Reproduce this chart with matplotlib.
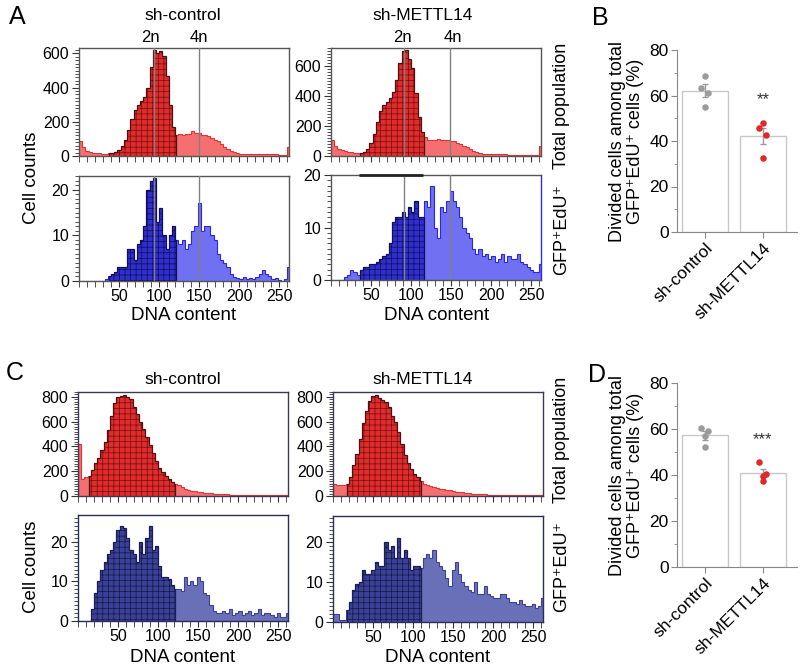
import numpy as np
import matplotlib
matplotlib.use('Agg')
import matplotlib.pyplot as plt
from matplotlib.ticker import MultipleLocator, FixedLocator

plt.rcParams['font.family'] = ['Liberation Sans', 'DejaVu Sans']
plt.rcParams['hatch.linewidth'] = 0.5

# DNA content channels, bins of 4 (0..264)
edges = np.arange(0, 268, 4)

# panel A, total population (red)
a_ctrl_tot = [85, 50, 32, 24, 20, 17, 15, 14, 14, 15,
              18, 25, 38, 60, 95, 150, 215, 270, 300, 320,
              345, 400, 520, 620, 605, 615, 585, 470, 300, 170,
              125, 128, 125, 130, 128, 148, 135, 132, 125, 120,
              118, 108, 95, 85, 70, 55, 42, 30, 22, 17,
              14, 13, 12, 12, 11, 11, 10, 10, 10, 9,
              9, 9, 8, 8, 8, 50]
a_kd_tot = [105, 70, 50, 38, 32, 28, 25, 22, 20, 22,
            28, 45, 85, 150, 230, 300, 340, 360, 390, 430,
            510, 620, 700, 710, 650, 590, 420, 260, 160, 125,
            110, 108, 110, 112, 108, 110, 105, 103, 98, 90,
            80, 70, 58, 45, 35, 26, 20, 16, 14, 13,
            12, 12, 11, 11, 11, 10, 10, 10, 10, 10,
            9, 9, 9, 9, 9, 70]
# panel A, GFP+EdU+ (blue)
a_ctrl_edu = [0, 0, 0, 0, 0, 0, 0, 0, 0.5, 1,
              1.5, 2, 3, 3, 3, 7, 7, 4.5, 8, 9,
              12, 20, 22, 22.5, 13, 16, 10, 7, 10, 12,
              9, 8, 9, 7, 8, 11, 12, 17, 11, 12,
              12, 10, 9, 6, 4.5, 4, 3, 1.5, 0.8, 0.6,
              0.5, 0.8, 0.5, 0.6, 0.5, 0.8, 1.5, 2.5, 1.5, 1,
              0.5, 0.7, 0.3, 0, 0.5, 3]
a_kd_edu = [0, 0, 0, 0, 0.5, 1, 2, 1.5, 1, 2,
            2.5, 2.5, 3, 3, 3.5, 4, 4.5, 5, 7, 11,
            12, 12, 13, 12, 14, 13, 15, 12, 12, 15,
            14, 18, 10, 8, 14, 13, 15, 17, 15, 14,
            12, 10, 9, 8, 6, 5, 6, 4.5, 5, 4,
            4.5, 3.5, 4, 5, 3.5, 4.5, 4, 4, 5, 3.5,
            3, 2.5, 2, 1.5, 1.5, 3]
# panel C, total population (red)
c_ctrl_tot = [420, 140, 150, 160, 210, 265, 310, 370, 440, 530,
              650, 750, 800, 810, 815, 800, 785, 720, 665, 600,
              540, 480, 410, 350, 280, 225, 190, 165, 140, 115,
              100, 90, 70, 58, 50, 44, 40, 35, 32, 28,
              25, 22, 20, 18, 16, 15, 13, 12, 11, 10,
              10, 9, 9, 8, 8, 8, 7, 7, 7, 7,
              6, 6, 6, 6, 6, 8]
c_kd_tot = [100, 85, 90, 85, 100, 150, 250, 340, 460, 590,
            690, 765, 805, 815, 790, 775, 760, 715, 650, 595,
            520, 420, 330, 265, 215, 175, 150, 125, 100, 90,
            80, 72, 65, 60, 55, 50, 45, 40, 36, 32,
            29, 26, 23, 20, 18, 16, 14, 13, 12, 11,
            10, 10, 9, 9, 8, 8, 8, 7, 7, 7,
            7, 7, 6, 6, 6, 6]
# panel C, GFP+EdU+ (navy)
c_ctrl_edu = [0, 0, 0, 0, 3, 7, 10, 13, 15, 17,
              18, 20, 23, 24, 23.5, 21, 18, 17, 15, 20,
              17, 21, 24, 18, 19, 14, 11, 11, 10.5, 9,
              8, 8, 7.5, 11, 9, 10, 9, 11, 10, 7,
              6.5, 4, 2.5, 2, 2, 2.5, 2, 3, 1.5, 2,
              2.5, 1.5, 2, 2.5, 1.5, 2, 3, 1.5, 2, 2,
              1.5, 1, 2, 1, 1, 2]
c_kd_edu = [2, 2, 0.5, 0.5, 3, 5, 8, 9.5, 10, 13,
            12, 12, 13, 15, 14, 14, 20, 18, 19, 16,
            21, 16, 18, 16, 13, 14, 14, 13.5, 16, 17,
            16, 18, 15, 14, 13, 11, 9, 13, 15, 12,
            10, 9, 8, 7.5, 10, 7, 7, 9, 7, 6.5,
            6, 6, 7, 7, 6, 5, 5, 4.5, 5.5, 4.5,
            4, 4, 4.5, 3.5, 4, 6]

gate_a_ctrl = (38, 121)
gate_a_kd = (36, 116)
gate_c_ctrl = (14, 121)
gate_c_kd = (17, 110)
ploidy_a_ctrl = (94, 150)
ploidy_a_kd = (91, 149)

# bar charts: divided cells among GFP+EdU+ cells (%)
groups = ['sh-control', 'sh-METTL14']
b_ctrl = [68.6, 63.3, 61.2, 55.0]
b_kd = [47.8, 45.6, 42.6, 32.4]
d_ctrl = [60.4, 59.3, 57.0, 52.0]
d_kd = [45.8, 40.4, 39.7, 37.4]
jitter_b = [0.0, -0.06, 0.06, 0.0]
jitter_d = [-0.06, 0.06, 0.0, 0.0]

W, H = 800, 672


def fx(px):
    return px / W


def fy(py):
    return 1 - py / H


def box(x0, y0, x1, y1):
    return [fx(x0), fy(y1), (x1 - x0) / W, (y1 - y0) / H]


def part(v, a, b):
    m = (edges[1:] > a) & (edges[:-1] < b)
    idx = np.where(m)[0]
    e = np.clip(np.append(edges[idx], edges[idx[-1] + 1]), a, b)
    return v[idx], e


def draw_hist(ax, vals, gate, cin, cout, lin, lout, hcol):
    v = np.asarray(vals, float)
    lo, hi = gate
    for a, b in [(0, lo), (hi, 262)]:
        pv, pe = part(v, a, b)
        ax.stairs(pv, pe, fill=True, facecolor=cout, edgecolor='none', lw=0)
        ax.stairs(pv, pe, color=lout, lw=0.8)
    pv, pe = part(v, lo, hi)
    ax.stairs(pv, pe, fill=True, facecolor=cin, edgecolor=hcol, hatch='+++', lw=0)
    ax.stairs(pv, pe, color=lin, lw=0.9)


def style_hist(ax, ymax, ymaj, ymin, spine, labels):
    ax.set_xlim(0, 262)
    ax.set_ylim(0, ymax)
    ax.xaxis.set_major_locator(FixedLocator([50, 100, 150, 200, 250]))
    ax.xaxis.set_minor_locator(MultipleLocator(10))
    ax.yaxis.set_major_locator(MultipleLocator(ymaj))
    ax.yaxis.set_minor_locator(MultipleLocator(ymin))
    ax.tick_params(which='major', direction='out', length=5, width=0.8,
                   labelsize=11.5, color='#333', pad=2)
    ax.tick_params(which='minor', direction='out', length=3, width=0.6, color='#333')
    ax.tick_params(axis='x', which='both', length=4)
    for s in ax.spines.values():
        s.set_color(spine)
        s.set_linewidth(1.0)
    if not labels:
        ax.set_xticklabels([])


fig = plt.figure(figsize=(8, 6.72), dpi=100)

red = dict(cin='#e32b2b', cout='#f47070', lin='#4a1212', lout='#e33232', hcol='#6a1010')
blue = dict(cin='#2e2ed2', cout='#7070f2', lin='#101058', lout='#2828e0', hcol='#10104a')
navy = dict(cin='#3b4199', cout='#6a70b8', lin='#1a1e50', lout='#3b4199', hcol='#141842')

# panel A
ax1 = fig.add_axes(box(79, 48, 289, 156))
draw_hist(ax1, a_ctrl_tot, gate_a_ctrl, **red)
style_hist(ax1, 632, 200, 20, '#555', False)
ax2 = fig.add_axes(box(79, 176, 289, 281))
draw_hist(ax2, a_ctrl_edu, gate_a_ctrl, **blue)
style_hist(ax2, 23, 10, 1, '#555', True)
ax3 = fig.add_axes(box(331, 48, 541, 156))
draw_hist(ax3, a_kd_tot, gate_a_kd, **red)
style_hist(ax3, 720, 200, 20, '#555', False)
ax4 = fig.add_axes(box(331, 175, 541, 280))
draw_hist(ax4, a_kd_edu, gate_a_kd, **blue)
style_hist(ax4, 20, 10, 1, '#555', True)
ax4.spines['right'].set_color('#3030d8')
ax4.hlines(20, 35, 115, color='#222', lw=2, clip_on=False, zorder=5)
for ax, pl in [(ax1, ploidy_a_ctrl), (ax2, ploidy_a_ctrl), (ax3, ploidy_a_kd), (ax4, ploidy_a_kd)]:
    for p in pl:
        ax.axvline(p, color='#808080', lw=1, zorder=4)

# panel C
ax5 = fig.add_axes(box(78, 392, 288, 496))
draw_hist(ax5, c_ctrl_tot, gate_c_ctrl, **red)
style_hist(ax5, 840, 200, 20, '#3a3a55', False)
ax6 = fig.add_axes(box(78, 515, 288, 621))
draw_hist(ax6, c_ctrl_edu, gate_c_ctrl, **navy)
style_hist(ax6, 26.8, 10, 1, '#2a2d5a', True)
ax7 = fig.add_axes(box(333, 392, 543, 496))
draw_hist(ax7, c_kd_tot, gate_c_kd, **red)
style_hist(ax7, 840, 200, 20, '#3a3a55', False)
ax8 = fig.add_axes(box(333, 516, 543, 622))
draw_hist(ax8, c_kd_edu, gate_c_kd, **navy)
style_hist(ax8, 26.5, 10, 1, '#2a2d5a', True)


def draw_bars(ax, ctrl, kd, jit, stars, star_y):
    means = [np.mean(ctrl), np.mean(kd)]
    sems = [np.std(ctrl, ddof=1) / np.sqrt(len(ctrl)), np.std(kd, ddof=1) / np.sqrt(len(kd))]
    x = np.arange(len(groups))
    ax.bar(x, means, width=0.8, color='white', edgecolor='#c8c8c8', lw=1, zorder=1)
    ax.errorbar(x, means, yerr=sems, fmt='none', ecolor='#9a9a9a', elinewidth=1,
                capsize=2, capthick=1, zorder=2)
    ax.scatter(0 + np.array(jit), ctrl, s=22, color='#9b9b9b', zorder=3, lw=0)
    ax.scatter(1 + np.array(jit), kd, s=22, color='#e0282c', zorder=3, lw=0)
    ax.text(1, star_y, stars, ha='center', va='center', fontsize=12, color='#333')
    ax.set_xlim(-0.48, 1.59)
    ax.set_ylim(0, 80)
    ax.yaxis.set_major_locator(MultipleLocator(20))
    ax.yaxis.set_minor_locator(MultipleLocator(10))
    ax.set_xticks(x)
    ax.set_xticklabels(groups, rotation=45, ha='right', rotation_mode='anchor', fontsize=12)
    ax.tick_params(which='major', direction='out', length=4, color='#888', labelsize=12.5, pad=2)
    ax.tick_params(which='minor', direction='out', length=2, color='#888')
    for s in ['top', 'right']:
        ax.spines[s].set_visible(False)
    for s in ['left', 'bottom']:
        ax.spines[s].set_color('#888')
    ax.set_ylabel('Divided cells among total\nGFP⁺EdU⁺ cells (%)', fontsize=13,
                  linespacing=1.1, labelpad=4)


axb = fig.add_axes(box(677, 50, 797, 232))
draw_bars(axb, b_ctrl, b_kd, jitter_b, '**', 58)
axd = fig.add_axes(box(677, 383, 797, 567))
draw_bars(axd, d_ctrl, d_kd, jitter_d, '***', 55.5)

# labels
def t(px, py, s, **kw):
    fig.text(fx(px), fy(py), s, ha='center', va='center', **kw)


t(17, 17, 'A', fontsize=18)
t(600, 18, 'B', fontsize=18)
t(15, 373, 'C', fontsize=18)
t(597, 375, 'D', fontsize=18)
t(183, 15, 'sh-control', fontsize=12.5)
t(423, 15, 'sh-METTL14', fontsize=12.5)
t(183, 380, 'sh-control', fontsize=12.5)
t(423, 379, 'sh-METTL14', fontsize=12.5)
t(150, 37, '2n', fontsize=12)
t(199, 37, '4n', fontsize=12)
t(402, 37, '2n', fontsize=12)
t(453, 37, '4n', fontsize=12)
for yy in [106, 440]:
    t(562, yy, 'Total population', fontsize=13, rotation=90)
for yy in [230, 567]:
    t(562, yy, 'GFP⁺EdU⁺', fontsize=13, rotation=90)
t(31, 178, 'Cell counts', fontsize=13.5, rotation=90)
t(31, 567, 'Cell counts', fontsize=13.5, rotation=90)
for xx, yy in [(184, 316), (437, 316), (183, 658), (438, 658)]:
    t(xx, yy, 'DNA content', fontsize=13.5)

fig.savefig('out.png', dpi=100)
